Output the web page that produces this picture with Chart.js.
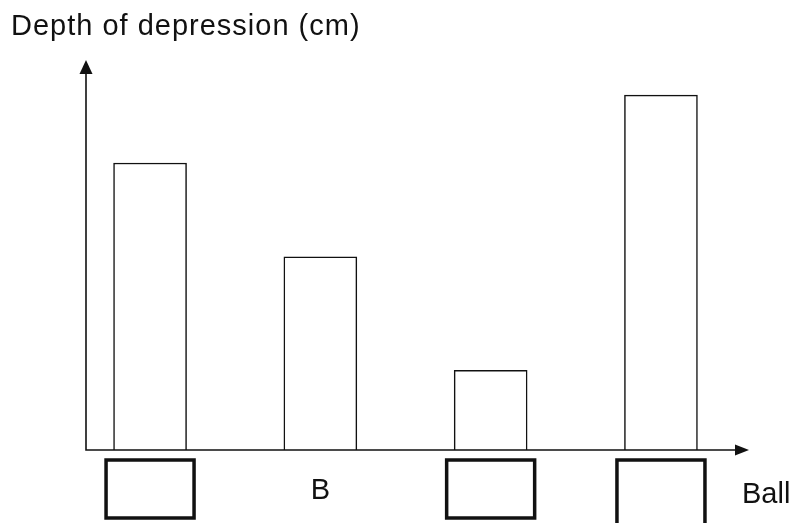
<!DOCTYPE html>
<html>
<head>
<meta charset="utf-8">
<script src="https://cdn.jsdelivr.net/npm/chart.js@4.4.1/dist/chart.umd.min.js"></script>
<style>
  html, body { margin: 0; padding: 0; background: #fff; }
  #wrap { width: 796px; height: 523px; }
</style>
</head>
<body>
<div id="wrap"><canvas id="chart" width="796" height="523"></canvas></div>
<script>
// values (arbitrary units, 100 = top of the y axis)
const balls = [0, 1, 2, 3];
const tickLabels = ['', 'B', '', ''];   // '' = blank answer box
const depths = [73.6, 49.5, 20.4, 91.0];
const yTitle = 'Depth of depression (cm)';
const xTitle = 'Ball';

const ink = '#111';
const font = '"Liberation Sans", Arial, sans-serif';

function arrow(ctx, tipX, tipY, dir, len, half) {
    ctx.beginPath();
    ctx.moveTo(tipX, tipY);
    if (dir === 'up') {
        ctx.lineTo(tipX - half, tipY + len);
        ctx.lineTo(tipX + half, tipY + len);
    } else {
        ctx.lineTo(tipX - len, tipY - half);
        ctx.lineTo(tipX - len, tipY + half);
    }
    ctx.closePath();
    ctx.fill();
}

const sketchAxes = {
    id: 'sketchAxes',
    afterDatasetsDraw(chart) {
        const { ctx, chartArea: a } = chart;
        const xs = chart.scales.x;
        ctx.save();
        ctx.strokeStyle = ink;
        ctx.fillStyle = ink;
        ctx.lineWidth = 1.6;

        // axes
        ctx.beginPath();
        ctx.moveTo(a.left + 1, a.top + 8);
        ctx.lineTo(a.left + 1, a.bottom);
        ctx.lineTo(a.right - 8, a.bottom);
        ctx.stroke();
        arrow(ctx, a.left + 1, a.top, 'up', 14, 6.5);
        arrow(ctx, a.right, a.bottom, 'right', 14, 5.5);

        // tick labels: letter or empty box
        ctx.font = '29px ' + font;
        ctx.textBaseline = 'alphabetic';
        ctx.textAlign = 'center';
        tickLabels.forEach((lab, i) => {
            const cx = xs.getPixelForValue(balls[i]);
            if (lab) {
                ctx.fillText(lab, cx, 499);
            } else {
                ctx.lineWidth = 3.5;
                const h = i === tickLabels.length - 1 ? 90 : 58;
                ctx.strokeRect(cx - 44, 460, 88, h);
            }
        });

        // axis titles
        ctx.textAlign = 'left';
        ctx.fillText(xTitle, 742, 503);
        ctx.letterSpacing = '1px';
        ctx.fillText(yTitle, 11, 35);
        ctx.restore();
    }
};

new Chart(document.getElementById('chart'), {
    type: 'bar',
    data: {
        datasets: [{
            data: balls.map((b, i) => ({ x: b, y: depths[i] })),
            backgroundColor: '#fff',
            borderColor: ink,
            borderWidth: 1.5,
            barThickness: 73
        }]
    },
    options: {
        responsive: false,
        animation: false,
        layout: { padding: { left: 85, top: 60, right: 47, bottom: 73 } },
        plugins: { legend: { display: false }, tooltip: { enabled: false } },
        scales: {
            x: { type: 'linear', offset: false, min: -0.382, max: 3.517, display: false },
            y: { min: 0, max: 100, display: false }
        }
    },
    plugins: [sketchAxes]
});
</script>
</body>
</html>
